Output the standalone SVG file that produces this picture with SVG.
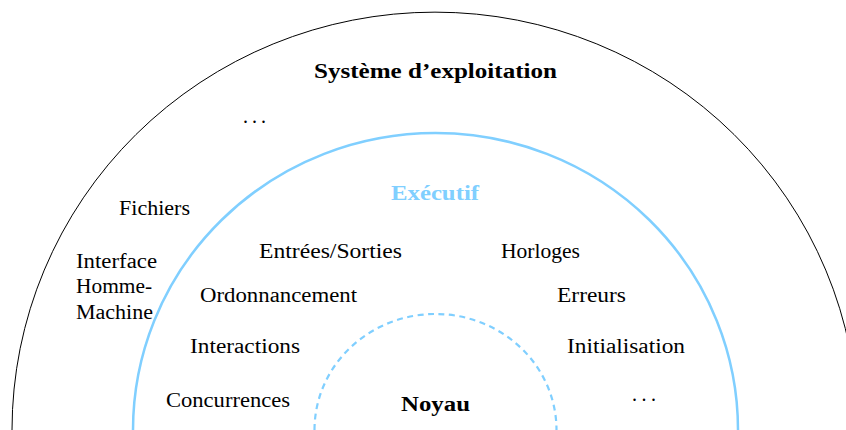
<svg xmlns="http://www.w3.org/2000/svg" width="846" height="430" viewBox="0 0 846 430">
<style>
.b{font-weight:bold}
.m{text-anchor:middle}
.blue{fill:#80cfff}
.ring{fill:none}
</style>
<rect width="846" height="430" fill="#fff"/>
<g font-family="Liberation Serif, DejaVu Serif, serif" font-size="20" fill="#000">
<g id="systeme">
<path class="ring" d="M12,430 A423,418 0 0 1 858,430" stroke="#000" stroke-width="1"/>
<text class="b m" x="435.5" y="78" textLength="243" lengthAdjust="spacingAndGlyphs">Système d’exploitation</text>
</g>
<g id="executif">
<path class="ring" d="M133,430 A302.5,297 0 0 1 738,430" stroke="#80cfff" stroke-width="2.5"/>
<text class="b m blue" x="435" y="200" textLength="88" lengthAdjust="spacingAndGlyphs">Exécutif</text>
</g>
<g id="noyau">
<path class="ring" d="M314.5,430 A121,116 0 0 1 556.5,430" stroke="#80cfff" stroke-width="2.2" stroke-dasharray="6 4.5"/>
<text class="b m" x="435.5" y="411" textLength="69" lengthAdjust="spacingAndGlyphs">Noyau</text>
</g>
<g id="label-dots-os"><text x="243" y="123" textLength="23" lengthAdjust="spacing">...</text></g>
<g id="label-fichiers"><text x="119" y="215" textLength="71" lengthAdjust="spacingAndGlyphs">Fichiers</text></g>
<g id="label-ihm">
<text x="76" y="268" textLength="81" lengthAdjust="spacingAndGlyphs">Interface</text>
<text x="76" y="293" textLength="76" lengthAdjust="spacingAndGlyphs">Homme-</text>
<text x="76" y="318.5" textLength="77" lengthAdjust="spacingAndGlyphs">Machine</text>
</g>
<g id="label-es"><text x="259" y="258" textLength="143" lengthAdjust="spacingAndGlyphs">Entrées/Sorties</text></g>
<g id="label-horloges"><text x="501" y="258" textLength="79" lengthAdjust="spacingAndGlyphs">Horloges</text></g>
<g id="label-ordonnancement"><text x="200" y="302" textLength="157" lengthAdjust="spacingAndGlyphs">Ordonnancement</text></g>
<g id="label-erreurs"><text x="557" y="302" textLength="69" lengthAdjust="spacingAndGlyphs">Erreurs</text></g>
<g id="label-interactions"><text x="190" y="352.5" textLength="110" lengthAdjust="spacingAndGlyphs">Interactions</text></g>
<g id="label-initialisation"><text x="567" y="352.5" textLength="118" lengthAdjust="spacingAndGlyphs">Initialisation</text></g>
<g id="label-concurrences"><text x="166" y="406.5" textLength="124" lengthAdjust="spacingAndGlyphs">Concurrences</text></g>
<g id="label-dots-exec"><text x="632" y="401" textLength="24" lengthAdjust="spacing">...</text></g>
</g>
<g id="connectors"/>
</svg>
